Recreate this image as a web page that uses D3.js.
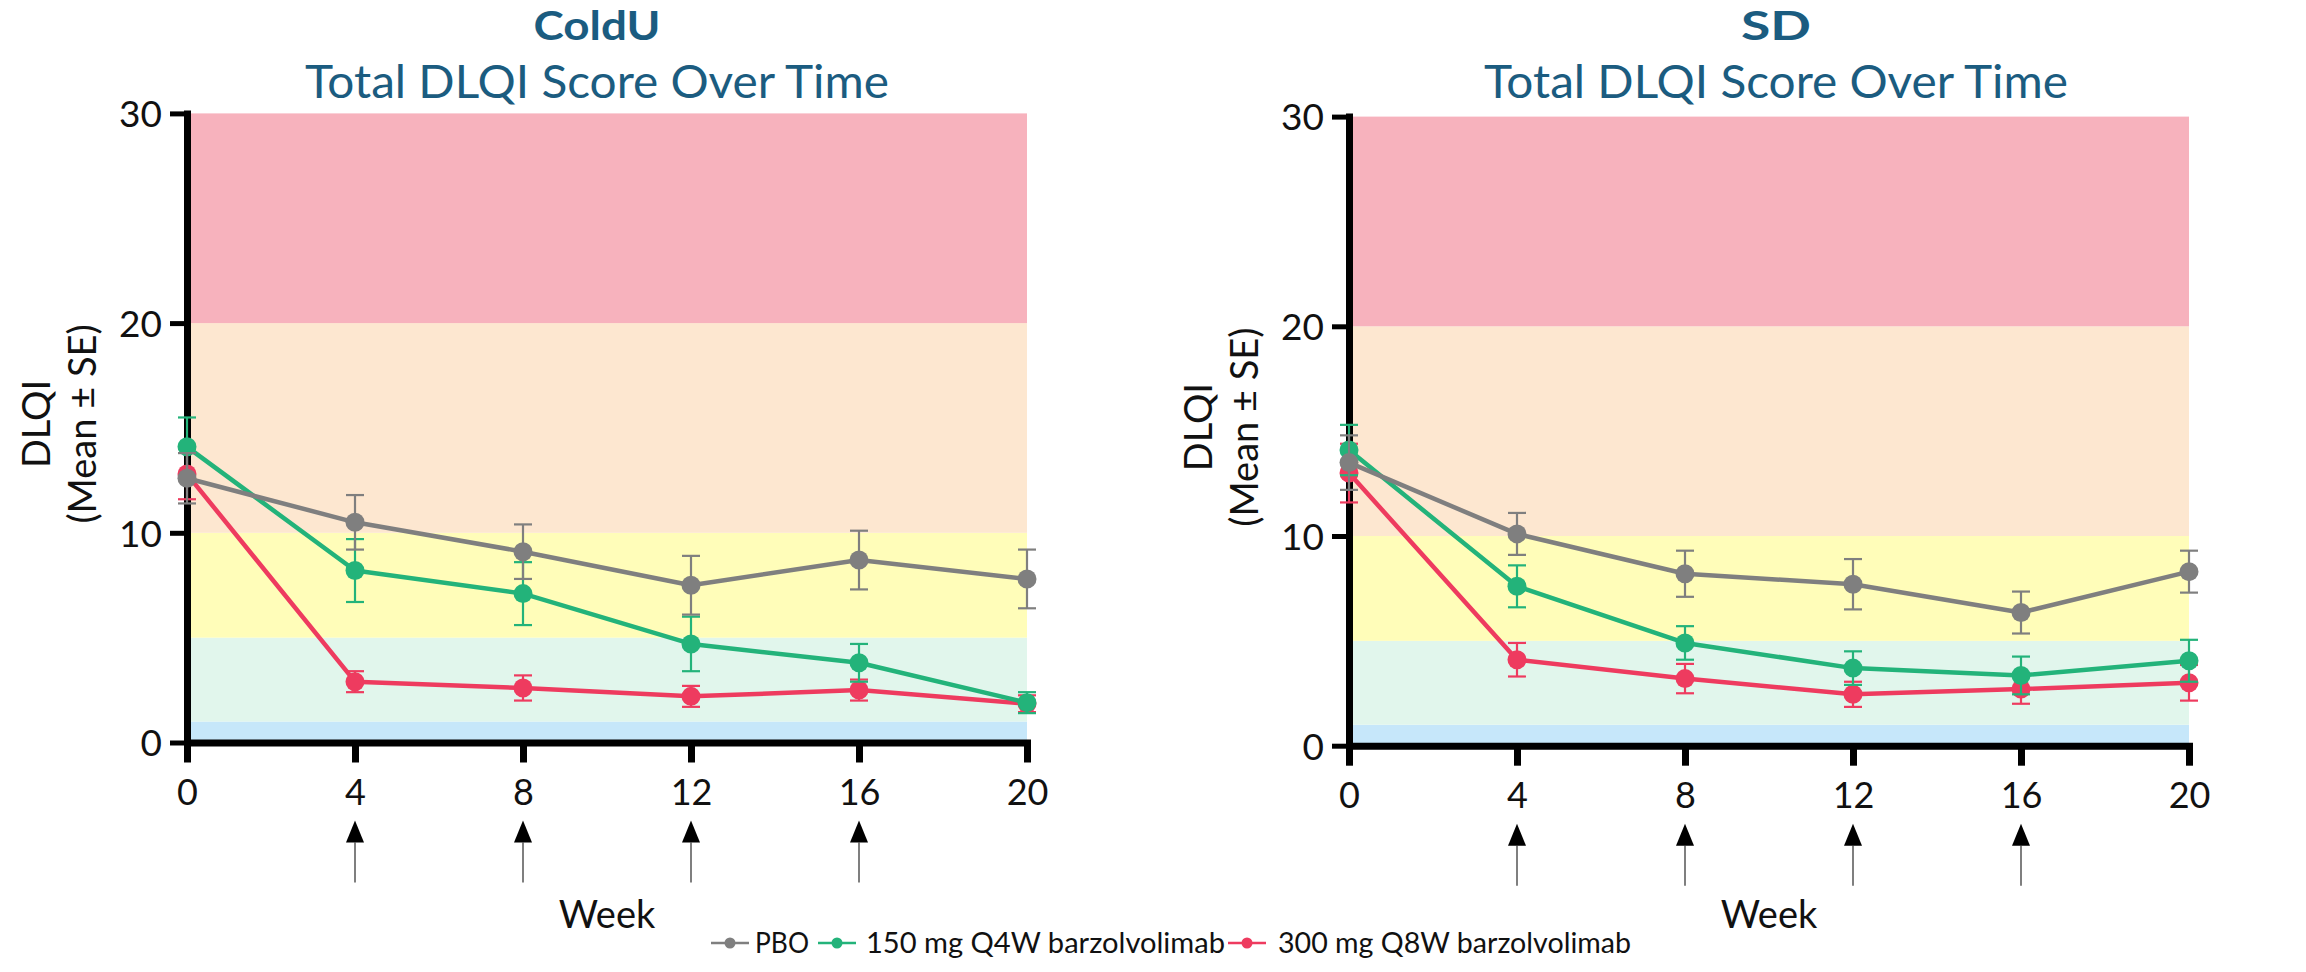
<!DOCTYPE html>
<html>
<head>
<meta charset="utf-8">
<script src="https://cdn.jsdelivr.net/npm/d3@7"></script>
<style>
  html, body { margin: 0; padding: 0; background: #fff; }
  svg { display: block; }
</style>
</head>
<body>
<div id="chart"></div>
<script>
const weeks = [0, 4, 8, 12, 16, 20];
const doseWeeks = [4, 8, 12, 16];
const yTicks = [0, 10, 20, 30];
const bandEdges = [0, 1, 5, 10, 20, 30];
const bandColors = ["#c6e7fa", "#e1f6ec", "#fffdb9", "#fde7d0", "#f7b2bd"];
const seriesNames = ["PBO", "150 mg Q4W barzolvolimab", "300 mg Q8W barzolvolimab"];
const seriesColors = ["#7f7f7f", "#23b37a", "#ee3b5f"];
const panelTitles = ["ColdU", "SD"];

// ColdU, mean and SE per week
const colduPBO = [12.6, 10.5, 9.1, 7.5, 8.7, 7.8];
const colduPBOse = [1.2, 1.3, 1.3, 1.4, 1.4, 1.4];
const colduQ4W = [14.1, 8.2, 7.1, 4.7, 3.8, 1.9];
const colduQ4Wse = [1.4, 1.5, 1.5, 1.3, 0.9, 0.5];
const colduQ8W = [12.8, 2.9, 2.6, 2.2, 2.5, 1.85];
const colduQ8Wse = [1.2, 0.5, 0.6, 0.5, 0.5, 0.4];

// SD, mean and SE per week
const sdPBO = [13.5, 10.1, 8.2, 7.7, 6.35, 8.3];
const sdPBOse = [1.3, 1.0, 1.1, 1.2, 1.0, 1.0];
const sdQ4W = [14.1, 7.6, 4.9, 3.7, 3.35, 4.05];
const sdQ4Wse = [1.2, 1.0, 0.8, 0.8, 0.9, 1.0];
const sdQ8W = [13.0, 4.1, 3.2, 2.45, 2.7, 3.0];
const sdQ8Wse = [1.4, 0.8, 0.7, 0.6, 0.7, 0.85];

const W = 2306, H = 972;
const TITLE_COLOR = "#1b5c80";
const AXIS_FONT = "Lato, 'Open Sans', sans-serif";

const svg = d3.select("#chart").append("svg")
    .attr("width", W)
    .attr("height", H)
    .attr("viewBox", [0, 0, W, H]);

function drawPanel(p) {
    const x = d3.scaleLinear().domain([0, 20]).range([p.x0, p.x1]);
    const y = d3.scaleLinear().domain([0, 30]).range([p.y0, p.y1]);
    const g = svg.append("g");

    // severity bands
    g.append("g").selectAll("rect")
        .data(bandColors)
        .join("rect")
        .attr("x", x(0))
        .attr("width", x(20) - x(0))
        .attr("y", (d, i) => y(bandEdges[i + 1]))
        .attr("height", (d, i) => y(bandEdges[i]) - y(bandEdges[i + 1]))
        .attr("fill", d => d);

    // titles
    g.append("text")
        .attr("x", p.titleX).attr("y", 40)
        .attr("text-anchor", "middle")
        .attr("font-family", AXIS_FONT)
        .attr("font-weight", "bold")
        .attr("font-size", 40)
        .attr("fill", TITLE_COLOR)
        .attr("textLength", p.titleW)
        .attr("lengthAdjust", "spacingAndGlyphs")
        .text(p.title);
    g.append("text")
        .attr("x", p.titleX).attr("y", 98)
        .attr("text-anchor", "middle")
        .attr("font-family", AXIS_FONT)
        .attr("font-size", 46)
        .attr("fill", TITLE_COLOR)
        .attr("textLength", 584)
        .attr("lengthAdjust", "spacingAndGlyphs")
        .text("Total DLQI Score Over Time");

    // axes
    g.append("g")
        .attr("transform", `translate(0,${p.y0})`)
        .call(d3.axisBottom(x).tickValues(weeks).tickSize(20).tickSizeOuter(0).tickPadding(17))
        .call(a => a.select(".domain").attr("stroke-width", 7).attr("stroke-linecap", "square"))
        .call(a => a.selectAll(".tick line").attr("stroke-width", 7))
        .call(a => a.selectAll(".tick text")
            .attr("font-family", AXIS_FONT)
            .attr("font-size", 36)
            .attr("fill", "#111"));
    g.append("g")
        .attr("transform", `translate(${p.x0},0)`)
        .call(d3.axisLeft(y).tickValues(yTicks).tickSize(17).tickSizeOuter(0).tickPadding(8))
        .call(a => a.select(".domain").attr("stroke-width", 7).attr("stroke-linecap", "square"))
        .call(a => a.selectAll(".tick line").attr("stroke-width", 5))
        .call(a => a.selectAll(".tick text")
            .attr("font-family", AXIS_FONT)
            .attr("font-size", 37)
            .attr("dy", "0.36em")
            .attr("fill", "#111"));

    // y axis label
    const cy = y(15) - 4;
    g.append("text")
        .attr("transform", `translate(${p.x0 - 137},${cy}) rotate(-90)`)
        .attr("text-anchor", "middle")
        .attr("font-family", AXIS_FONT)
        .attr("font-size", 38)
        .attr("fill", "#111")
        .text("DLQI");
    g.append("text")
        .attr("transform", `translate(${p.x0 - 91},${cy}) rotate(-90)`)
        .attr("text-anchor", "middle")
        .attr("font-family", AXIS_FONT)
        .attr("font-size", 38)
        .attr("fill", "#111")
        .text("(Mean \u00b1 SE)");

    // dosing arrows
    const arrows = g.append("g").selectAll("g")
        .data(doseWeeks)
        .join("g")
        .attr("transform", d => `translate(${x(d)},${p.y0})`);
    arrows.append("line")
        .attr("y1", 100).attr("y2", 140)
        .attr("stroke", "#555").attr("stroke-width", 1.5);
    arrows.append("path")
        .attr("d", "M0,78L9,100L-9,100Z")
        .attr("fill", "#000");

    g.append("text")
        .attr("x", (p.x0 + p.x1) / 2).attr("y", 928)
        .attr("text-anchor", "middle")
        .attr("font-family", AXIS_FONT)
        .attr("font-size", 38)
        .attr("fill", "#111")
        .text("Week");

    // series: red first, gray on top
    const line = d3.line().x((d, i) => x(weeks[i])).y(d => y(d));
    [2, 1, 0].forEach(k => {
        const mean = p.means[k], se = p.ses[k], c = seriesColors[k];
        const s = g.append("g");
        s.append("path")
            .datum(mean)
            .attr("fill", "none")
            .attr("stroke", c)
            .attr("stroke-width", 4.5)
            .attr("stroke-linejoin", "round")
            .attr("d", line);
        const eb = s.append("g").selectAll("g")
            .data(mean)
            .join("g")
            .attr("stroke", c)
            .attr("stroke-width", 2.2);
        eb.append("line")
            .attr("x1", (d, i) => x(weeks[i])).attr("x2", (d, i) => x(weeks[i]))
            .attr("y1", (d, i) => y(d + se[i])).attr("y2", (d, i) => y(d - se[i]));
        eb.append("line")
            .attr("x1", (d, i) => x(weeks[i]) - 9).attr("x2", (d, i) => x(weeks[i]) + 9)
            .attr("y1", (d, i) => y(d + se[i])).attr("y2", (d, i) => y(d + se[i]));
        eb.append("line")
            .attr("x1", (d, i) => x(weeks[i]) - 9).attr("x2", (d, i) => x(weeks[i]) + 9)
            .attr("y1", (d, i) => y(d - se[i])).attr("y2", (d, i) => y(d - se[i]));
        s.append("g").selectAll("circle")
            .data(mean)
            .join("circle")
            .attr("cx", (d, i) => x(weeks[i]))
            .attr("cy", d => y(d))
            .attr("r", 9.5)
            .attr("fill", c);
    });
}

drawPanel({
    x0: 187, x1: 1027, y0: 742.5, y1: 113.4,
    title: panelTitles[0], titleX: 597, titleW: 127,
    means: [colduPBO, colduQ4W, colduQ8W],
    ses: [colduPBOse, colduQ4Wse, colduQ8Wse]
});
drawPanel({
    x0: 1349, x1: 2189, y0: 745.7, y1: 116.6,
    title: panelTitles[1], titleX: 1776, titleW: 70,
    means: [sdPBO, sdQ4W, sdQ8W],
    ses: [sdPBOse, sdQ4Wse, sdQ8Wse]
});

// legend
const legendSym = [711, 818, 1228];
const legendText = [755, 866, 1278];
const legendW = [54, 359, 353];
const leg = svg.append("g").selectAll("g")
    .data(seriesNames)
    .join("g");
leg.append("line")
    .attr("x1", (d, i) => legendSym[i]).attr("x2", (d, i) => legendSym[i] + 38)
    .attr("y1", 943).attr("y2", 943)
    .attr("stroke", (d, i) => seriesColors[i])
    .attr("stroke-width", 2.5);
leg.append("circle")
    .attr("cx", (d, i) => legendSym[i] + 19).attr("cy", 943)
    .attr("r", 5.5)
    .attr("fill", (d, i) => seriesColors[i]);
leg.append("text")
    .attr("x", (d, i) => legendText[i]).attr("y", 953)
    .attr("font-family", AXIS_FONT)
    .attr("font-size", 28)
    .attr("fill", "#111")
    .attr("textLength", (d, i) => legendW[i])
    .attr("lengthAdjust", "spacingAndGlyphs")
    .text(d => d);
</script>
</body>
</html>
